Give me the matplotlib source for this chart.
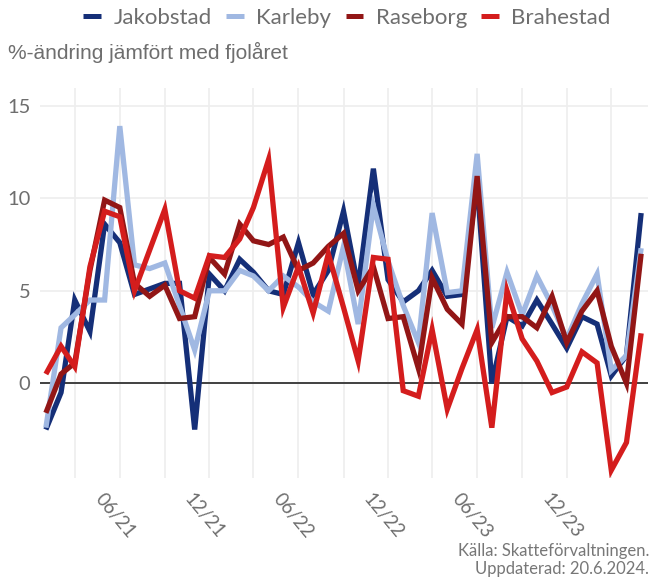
import matplotlib
matplotlib.use('Agg')
import matplotlib.pyplot as plt
import matplotlib.dates as mdates
import matplotlib.transforms as mtrans
from matplotlib.lines import Line2D
import pandas as pd

# monthly change in % compared with the same month last year
months = pd.date_range('2021-01-01', periods=41, freq='MS')

jakobstad = [-2.5, -0.5, 4.5, 2.8, 8.6, 7.6, 4.8, 5.1, 5.4, 5.4,
             -2.5, 5.9, 5.0, 6.7, 6.0, 5.0, 4.8, 7.6, 4.8, 6.1,
             9.3, 5.2, 11.6, 5.6, 4.4, 5.0, 6.1, 4.7, 4.8, 10.8,
             0.0, 3.6, 3.1, 4.5, 3.2, 1.9, 3.6, 3.2, 0.4, 1.5, 9.2]
karleby = [-2.4, 3.0, 3.7, 4.5, 4.5, 13.9, 6.4, 6.2, 6.5, 4.2,
           1.8, 5.0, 5.0, 6.1, 5.8, 5.0, 5.8, 5.2, 4.4, 3.9,
           7.4, 3.2, 9.6, 6.6, 4.2, 2.2, 9.2, 4.9, 5.0, 12.4,
           3.0, 6.0, 3.7, 5.8, 4.2, 2.4, 4.3, 5.9, 0.7, 1.5, 7.3]
raseborg = [-1.6, 0.5, 1.1, 6.1, 9.9, 9.5, 5.4, 4.7, 5.3, 3.5,
            3.6, 6.8, 5.9, 8.6, 7.7, 7.5, 7.9, 6.1, 6.5, 7.4,
            8.1, 5.0, 6.3, 3.5, 3.6, 0.8, 5.7, 4.0, 3.2, 11.2,
            2.2, 3.6, 3.6, 3.0, 4.7, 2.2, 3.9, 5.0, 2.0, 0.0, 7.0]
brahestad = [0.5, 2.0, 0.9, 6.3, 9.3, 9.0, 5.0, 7.2, 9.4, 5.0,
             4.6, 6.9, 6.8, 7.8, 9.5, 12.1, 4.1, 6.3, 3.8, 7.0,
             4.1, 1.2, 6.8, 6.7, -0.4, -0.7, 2.9, -1.4, 0.8, 2.9,
             -2.4, 5.0, 2.4, 1.2, -0.5, -0.2, 1.7, 1.1, -4.7, -3.2, 2.7]

names = ['Jakobstad', 'Karleby', 'Raseborg', 'Brahestad']
colors = ['#152f78', '#a0b8e2', '#921616', '#d41d1d']
series = [jakobstad, karleby, raseborg, brahestad]

light = ['Lato', 'DejaVu Sans']
grey = '#6e6e6e'

fig = plt.figure(figsize=(6.51, 5.78), dpi=100)
ax = fig.add_axes([40 / 651, 1 - 478 / 578, 608 / 651, 390 / 578])

for vals, col in zip(series, colors):
    ax.plot(months, vals, color=col, lw=3.8, solid_joinstyle='miter',
            solid_capstyle='butt', zorder=3)
ax.axhline(0, color='#333333', lw=1.3, zorder=2)

ax.set_ylim(-5.12, 15.96)
ax.set_xlim(months[0] - pd.Timedelta(days=12), months[-1] + pd.Timedelta(days=14))
ax.set_yticks([0, 5, 10, 15])

ax.xaxis.set_major_locator(mdates.MonthLocator(bymonth=[6, 12]))
ax.xaxis.set_minor_locator(mdates.MonthLocator(bymonth=[3, 9]))
ax.xaxis.set_major_formatter(mdates.DateFormatter('%m/%y'))

ax.grid(True, which='both', color='#eeeeee', lw=1.2, zorder=0)
for s in ax.spines.values():
    s.set_visible(False)
ax.tick_params(which='both', length=0)
ax.tick_params(axis='y', pad=7, labelsize=14.5, labelcolor=grey)
ax.tick_params(axis='x', pad=9, labelsize=13.5, labelcolor=grey)

for lab in ax.get_yticklabels():
    lab.set_fontfamily(light)
shift = mtrans.ScaledTranslation(-5 / 100, 0, fig.dpi_scale_trans)
for lab in ax.get_xticklabels():
    lab.set_fontfamily(light)
    lab.set_rotation(-50)
    lab.set_ha('center')
    lab.set_transform(lab.get_transform() + shift)

fig.text(8 / 651, 1 - 52 / 578, '%-ändring jämfört med fjolåret', fontsize=15,
         color=grey, family=['Liberation Sans', 'DejaVu Sans'], ha='left', va='center')

handles = [Line2D([], [], color=c, lw=3.6, solid_capstyle='butt') for c in colors]
leg = fig.legend(handles, names, loc='center', bbox_to_anchor=(347 / 651, 1 - 18 / 578),
                 ncol=4, frameon=False, handlelength=0.8, handletextpad=0.55,
                 columnspacing=0.65, prop={'family': light, 'size': 16})
for t in leg.get_texts():
    t.set_color(grey)

fig.text(649 / 651, 1 - 551 / 578, 'Källa: Skatteförvaltningen.', fontsize=12,
         color='#777777', family=light, ha='right', va='center')
fig.text(649 / 651, 1 - 569 / 578, 'Uppdaterad: 20.6.2024.', fontsize=12,
         color='#777777', family=light, ha='right', va='center')

fig.savefig('out.png', dpi=100)
